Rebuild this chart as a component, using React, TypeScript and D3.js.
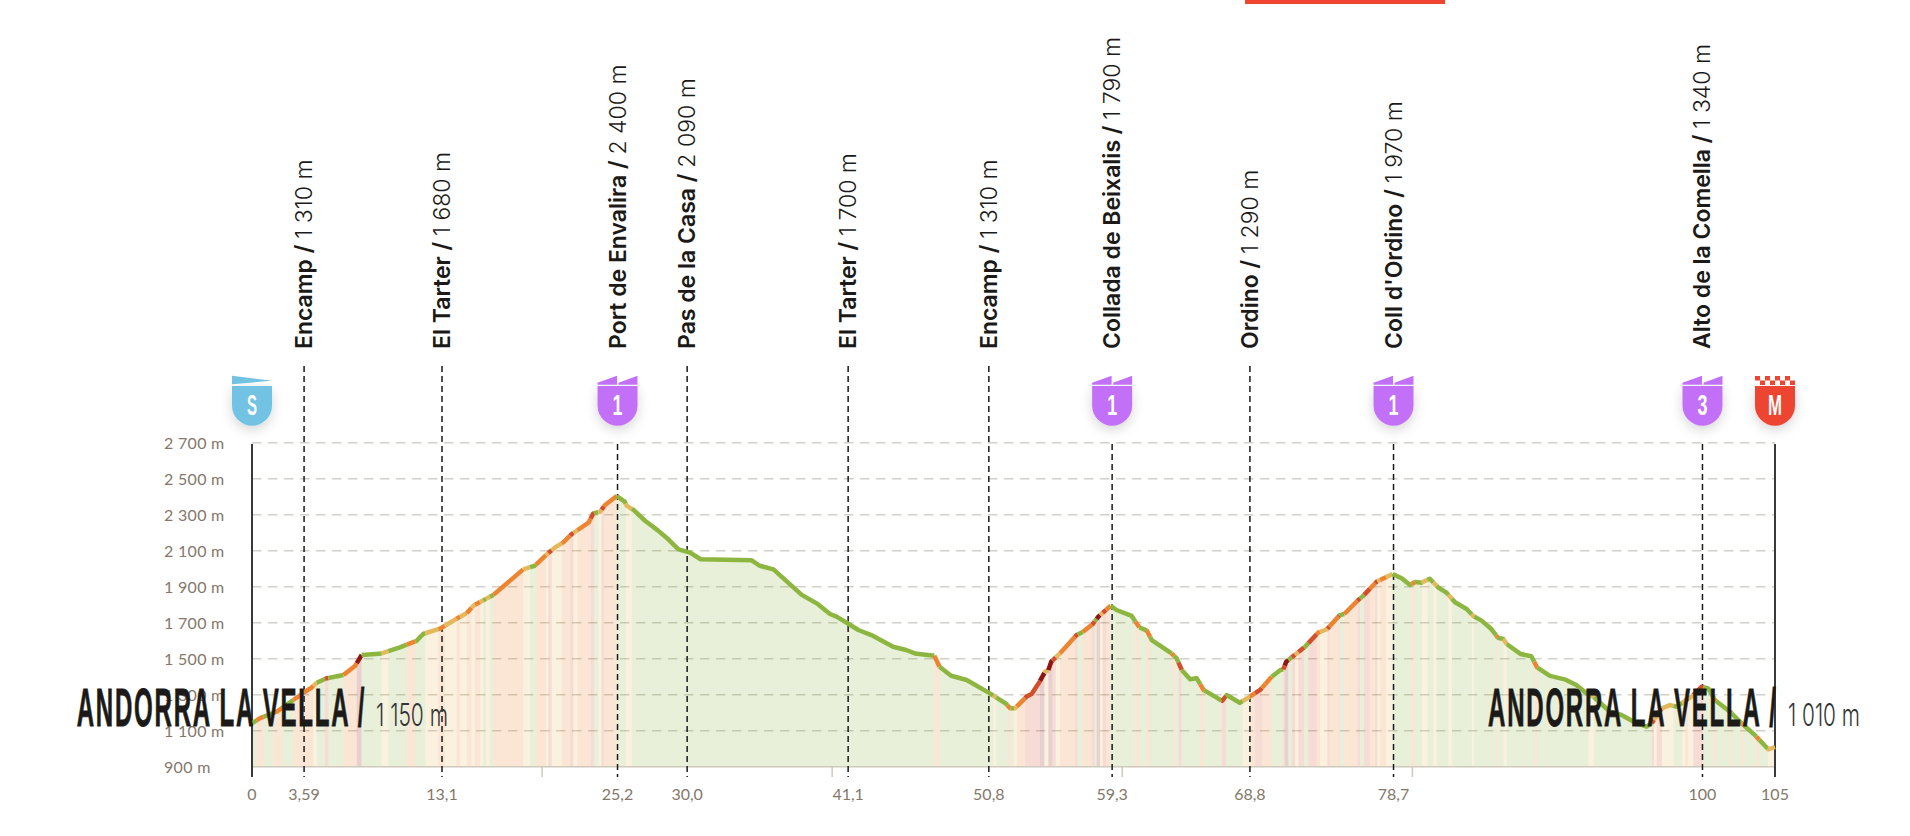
import * as d3 from 'd3';

const width = 1910;
const height = 836;

// Elevation profile (km / metres)
const profileKm = [
  0, 0.55, 1.7, 2.85, 3.65, 4.1, 4.46, 5.15, 6.3, 7.1, 7.56, 8.94, 10.2, 11.35, 11.8, 13.0, 14.34, 14.8, 15.26, 16.64,
  18.7, 19.5, 20.4, 20.9, 21.46, 22.04, 23.2, 23.53, 24, 24.34, 25.15, 25.7, 25.83, 26.3, 27.1, 28, 28.7, 29.4, 30.2, 30.93,
  34.45, 35, 35.95, 37.9, 38.93, 39.85, 40.3, 41.0, 41.8, 42.7, 44.2, 45.1, 45.7, 47.04, 47.4, 48.2, 49.27, 50.87, 52, 52.26,
  52.6, 53.4, 53.75, 54.3, 54.67, 54.9, 55.1, 55.7, 56.85, 57.27, 57.96, 58.35, 59.2, 59.6, 60.65, 61.17, 61.7, 62.03, 63.4, 63.75,
  64.1, 64.67, 65.13, 65.6, 66.6, 66.9, 67.2, 68.1, 68.8, 69.5, 70.3, 70.9, 71.1, 71.3, 72.6, 73.5, 74.1, 75, 75.3, 76.27,
  76.6, 77.54, 78.64, 79.26, 79.84, 80.2, 80.64, 81.2, 81.8, 82.36, 82.94, 83.74, 84.2, 84.77, 85.46, 85.9, 86.27, 86.5, 87.45, 88.2,
  88.6, 89.48, 90.5, 91.3, 92, 92.47, 93.62, 94.42, 95.45, 96.15, 96.5, 97.2, 97.76, 98.2, 99.25, 99.95, 100.4, 100.86, 101.9, 102.7,
  103.6, 104.54, 105,
];
const profileElev = [
  1142, 1170, 1206, 1271, 1317, 1340, 1367, 1392, 1410, 1460, 1521, 1530, 1564, 1600, 1638, 1669, 1734, 1753, 1795, 1855,
  1997, 2017, 2086, 2119, 2147, 2193, 2256, 2308, 2317, 2354, 2404, 2373, 2351, 2327, 2267, 2212, 2164, 2108, 2090, 2053,
  2047, 2017, 1997, 1855, 1808, 1749, 1734, 1700, 1660, 1632, 1567, 1549, 1530, 1517, 1456, 1406, 1382, 1308, 1249, 1225,
  1225, 1290, 1304, 1373, 1428, 1437, 1484, 1530, 1632, 1649, 1693, 1734, 1795, 1771, 1738, 1675, 1656, 1604, 1530, 1503,
  1438, 1386, 1392, 1327, 1280, 1267, 1299, 1256, 1290, 1327, 1400, 1438, 1440, 1484, 1567, 1645, 1664, 1743, 1749, 1827,
  1849, 1929, 1971, 1947, 1910, 1927, 1923, 1945, 1895, 1867, 1814, 1777, 1738, 1712, 1664, 1617, 1610, 1582, 1527, 1514,
  1452, 1405, 1386, 1354, 1308, 1290, 1206, 1188, 1142, 1123, 1142, 1225, 1243, 1234, 1290, 1345, 1336, 1271, 1206, 1142,
  1077, 997, 1010,
];

// Gradient stretches: where each one ends and its class
const gradeColors = ['#8cb63f', '#e6b85c', '#ec8430', '#d34f2a', '#8f1612'];
const gradeEnds = [
  0.32, 0.78, 1.47, 2.05, 2.85, 4.23, 4.46, 5.03, 5.26, 6.3, 7.22, 7.56, 8.94, 9.4, 10.67, 11.25, 11.95, 12.84, 13.3, 14.1,
  14.34, 14.8, 15.14, 15.37, 15.72, 15.95, 16.13, 16.4, 16.64, 18.7, 19.17, 19.58, 20.27, 20.43, 20.66, 21.35, 21.93, 22.16, 22.43, 23.35,
  23.58, 23.88, 24.1, 24.27, 25.15, 25.77, 26.18, 47.04, 47.4, 51.11, 51.3, 52.08, 52.3, 52.54, 52.72, 53.3, 54.33, 54.63, 54.9, 55.18,
  55.41, 55.71, 56.74, 56.93, 57.27, 57.9, 58.1, 58.23, 58.47, 58.65, 58.88, 59.2, 60.9, 61.17, 61.69, 61.92, 63.4, 63.57, 63.87, 64.1,
  65.37, 65.64, 66.86, 67.16, 68.3, 68.81, 69.16, 69.62, 69.85, 70.3, 71.1, 71.2, 71.45, 71.68, 71.91, 72.14, 72.53, 72.83, 73.4, 73.64,
  74.14, 74.28, 74.9, 74.97, 75.3, 76.21, 76.4, 76.67, 77.08, 77.43, 77.59, 77.77, 78.19, 78.64, 79.96, 80.19, 80.65, 81.04, 81.45, 81.68,
  82.49, 82.72, 84.1, 84.26, 85.77, 85.89, 86.28, 86.5, 88.4, 88.62, 92.13, 92.52, 96.5, 96.66, 96.84, 97.2, 98.0, 98.6, 98.8, 99.03,
  99.37, 100.06, 100.8, 100.94, 101.85, 102.01, 102.7, 102.87, 103.7, 103.92, 104.5, 105,
];
const gradeClasses = [
  0, 2, 0, 2, 0, 2, 1, 0, 3, 0, 2, 4, 0, 1, 0, 2, 0, 1, 2, 1,
  2, 1, 2, 1, 2, 1, 0, 1, 0, 2, 1, 0, 2, 1, 3, 1, 2, 3, 1, 2,
  3, 0, 1, 3, 2, 0, 1, 0, 2, 0, 1, 0, 2, 0, 1, 2, 3, 4, 1, 4,
  3, 1, 2, 3, 0, 2, 3, 0, 4, 1, 3, 2, 0, 2, 0, 2, 0, 2, 0, 3,
  0, 2, 0, 3, 0, 1, 2, 3, 2, 2, 0, 3, 4, 0, 3, 1, 3, 0, 3, 2,
  1, 3, 2, 3, 0, 2, 3, 0, 3, 2, 3, 1, 2, 1, 0, 2, 0, 1, 0, 1,
  0, 1, 0, 1, 0, 2, 0, 1, 0, 2, 0, 1, 0, 3, 1, 3, 1, 0, 1, 2,
  1, 3, 0, 2, 0, 2, 0, 2, 0, 2, 0, 1,
];

const elevTicks = [900, 1100, 1300, 1500, 1700, 1900, 2100, 2300, 2500, 2700];
const elevTickLabels = ['900 m', '1 100 m', '1 300 m', '1 500 m', '1 700 m', '1 900 m', '2 100 m', '2 300 m', '2 500 m', '2 700 m'];

const kmLabels = ['0', '3,59', '13,1', '25,2', '30,0', '41,1', '50,8', '59,3', '68,8', '78,7', '100', '105'];
const kmLabelValues = [0, 3.59, 13.1, 25.2, 30.0, 41.1, 50.8, 59.3, 68.8, 78.7, 100, 105];
const minorTicks = [20, 40, 60, 80];

const stopNames = ['Encamp', 'El Tarter', 'Port de Envalira', 'Pas de la Casa', 'El Tarter', 'Encamp', 'Collada de Beixalis', 'Ordino', "Coll d'Ordino", 'Alto de la Comella'];
const stopElevations = ['1 310 m', '1 680 m', '2 400 m', '2 090 m', '1 700 m', '1 310 m', '1 790 m', '1 290 m', '1 970 m', '1 340 m'];
const stopKm = [3.59, 13.1, 25.2, 30.0, 41.1, 50.8, 59.3, 68.8, 78.7, 100];
const stopIsClimb = [false, false, true, false, false, false, true, false, true, true];

const badgeKm = [0, 25.2, 59.3, 78.7, 100, 105];
const badgeLabels = ['S', '1', '1', '1', '3', 'M'];
const badgeKinds = ['start', 'climb', 'climb', 'climb', 'climb', 'finish'];

const x = d3.scaleLinear().domain([0, 105]).range([252, 1775]);
const y = d3.scaleLinear().domain([900, 2700]).range([766.8, 442.8]);
const elevAt = d3.scaleLinear().domain(profileKm).range(profileElev);

const profile = profileKm.map((km, i) => [km, profileElev[i]] as [number, number]);
const lineGen = d3.line<[number, number]>().x(d => x(d[0])).y(d => y(d[1]));
const areaGen = d3.area<[number, number]>().x(d => x(d[0])).y0(y(900)).y1(d => y(d[1]));

const stretches = gradeEnds.map((end, i) => {
  const start = i === 0 ? 0 : gradeEnds[i - 1];
  const inner = profileKm.filter(k => k > start && k < end);
  const pts = [start, ...inner, end].map(k => [k, elevAt(k)] as [number, number]);
  return { start, end, color: gradeColors[gradeClasses[i]], pts };
});

const labelFont = 'Inter, "Liberation Sans", sans-serif';
const axisFont = 'Lato, "Open Sans", sans-serif';
const titleFont = '"Liberation Sans", sans-serif';
const axisColor = '#83786b';
const ink = '#1b1a18';

function Badge({ km, label, kind }: { km: number; label: string; kind: string }) {
  const cx = x(km);
  const l = cx - 20;
  const r = cx + 20;
  const fill = kind === 'start' ? '#72c2e4' : kind === 'finish' ? '#ee4430' : '#c270f8';
  const body = `M${l},386 H${r} V405.7 A20,20 0 0 1 ${l},405.7 Z`;
  return (
    <g>
      <path d={body} fill={fill} filter="url(#badgeShadow)" />
      {kind === 'start' && <path d={`M${l},375.7 L${r},380.7 L${l},384.3 Z`} fill={fill} />}
      {kind === 'climb' && (
        <>
          <path d={`M${l},382.8 L${cx - 0.5},375.7 V384.8 H${l} Z`} fill={fill} />
          <path d={`M${cx + 1},382.8 L${r},375.7 V384.8 H${cx + 1} Z`} fill={fill} />
        </>
      )}
      {kind === 'finish' &&
        d3.range(8).map(c =>
          d3.range(2).map(row =>
            (c + row) % 2 === 0 ? (
              <rect key={`${c}-${row}`} x={l + c * 5} y={376 + row * 4.5} width={5} height={4.5} fill={fill} />
            ) : null,
          ),
        )}
      <text
        x={cx}
        y={415}
        textAnchor="middle"
        fill="#fff"
        fontFamily={titleFont}
        fontWeight={700}
        fontSize={30}
        textLength={label === 'M' ? 14 : 10}
        lengthAdjust="spacingAndGlyphs"
      >
        {label}
      </text>
    </g>
  );
}

function TownTitle({ left, name, value, valueLeft }: { left: number; name: string; value: string; valueLeft: number }) {
  return (
    <g>
      <text
        transform={`translate(${left},726) scale(0.445,1)`}
        fontFamily={titleFont}
        fontWeight={700}
        fontSize={54}
        letterSpacing={4}
        fill={ink}
        stroke={ink}
        strokeWidth={0.8}
      >
        {name}
      </text>
      <text x={valueLeft} y={726} fontFamily={labelFont} fontWeight={300} fontSize={31} fill="#333" textLength={72} lengthAdjust="spacingAndGlyphs">
        {value}
      </text>
    </g>
  );
}

export default function App() {
  return (
    <svg width={width} height={height} style={{ position: 'absolute', left: 0, top: 0, background: '#fff' }}>
      <defs>
        <clipPath id="underProfile">
          <path d={areaGen(profile) ?? ''} />
        </clipPath>
        <filter id="badgeShadow" x="-60%" y="-60%" width="220%" height="220%">
          <feDropShadow dx={0} dy={4} stdDeviation={6} floodColor="#000" floodOpacity={0.16} />
        </filter>
      </defs>

      <rect x={1245} y={0} width={200} height={4} fill="#ee4430" />

      {/* grid */}
      {elevTicks.slice(1).map(t => (
        <line key={t} x1={x(0)} x2={x(105)} y1={y(t)} y2={y(t)} stroke="#d3d0c9" strokeWidth={1.5} strokeDasharray="9.5,6.5" />
      ))}

      {/* gradient bands under the profile */}
      <g clipPath="url(#underProfile)">
        {stretches.map((s, i) => (
          <rect key={i} x={x(s.start)} width={x(s.end) - x(s.start)} y={y(2700)} height={y(900) - y(2700)} fill={s.color} opacity={0.2} />
        ))}
      </g>

      {/* baseline and axes */}
      <line x1={x(0)} x2={x(105)} y1={y(900)} y2={y(900)} stroke="#cfc9bd" strokeWidth={1.5} />
      {minorTicks.map(k => (
        <line key={k} x1={x(k)} x2={x(k)} y1={y(900)} y2={777} stroke="#cfc9bd" strokeWidth={1.5} />
      ))}
      {[0, 105].map(k => (
        <line key={k} x1={x(k)} x2={x(k)} y1={444} y2={777} stroke="#3a3a3a" strokeWidth={2} />
      ))}

      {/* stop lines */}
      {stopKm.map((k, i) => (
        <line key={i} x1={x(k)} x2={x(k)} y1={stopIsClimb[i] ? 444 : 366} y2={777} stroke="#1a1a1a" strokeWidth={1.5} strokeDasharray="6,4" />
      ))}

      {/* profile line */}
      <g fill="none" strokeWidth={4.5} strokeLinejoin="round">
        {stretches.map((s, i) => (
          <path key={i} d={lineGen(s.pts) ?? ''} stroke={s.color} />
        ))}
      </g>

      {/* axis labels */}
      {elevTicks.map((t, i) => (
        <text key={t} x={164} y={y(t) + 6} fontFamily={axisFont} fontSize={16} letterSpacing={0.3} fill={axisColor}>
          {elevTickLabels[i]}
        </text>
      ))}
      {kmLabels.map((label, i) => (
        <text key={i} x={x(kmLabelValues[i])} y={800} textAnchor="middle" fontFamily={axisFont} fontSize={16} fill={axisColor}>
          {label}
        </text>
      ))}

      {/* stop labels */}
      {stopNames.map((name, i) => (
        <text
          key={i}
          transform={`translate(${x(stopKm[i]) + 8},349) rotate(-90)`}
          fontFamily={labelFont}
          fontSize={23}
          fill={ink}
        >
          <tspan fontWeight={600}>{name} / </tspan>
          <tspan fontWeight={300}>{stopElevations[i]}</tspan>
        </text>
      ))}

      {badgeKm.map((k, i) => (
        <Badge key={i} km={k} label={badgeLabels[i]} kind={badgeKinds[i]} />
      ))}

      {/* start and finish towns */}
      <TownTitle left={76.7} name="ANDORRA LA VELLA /" value="1 150 m" valueLeft={376} />
      <TownTitle left={1488} name="ANDORRA LA VELLA /" value="1 010 m" valueLeft={1788} />
    </svg>
  );
}
